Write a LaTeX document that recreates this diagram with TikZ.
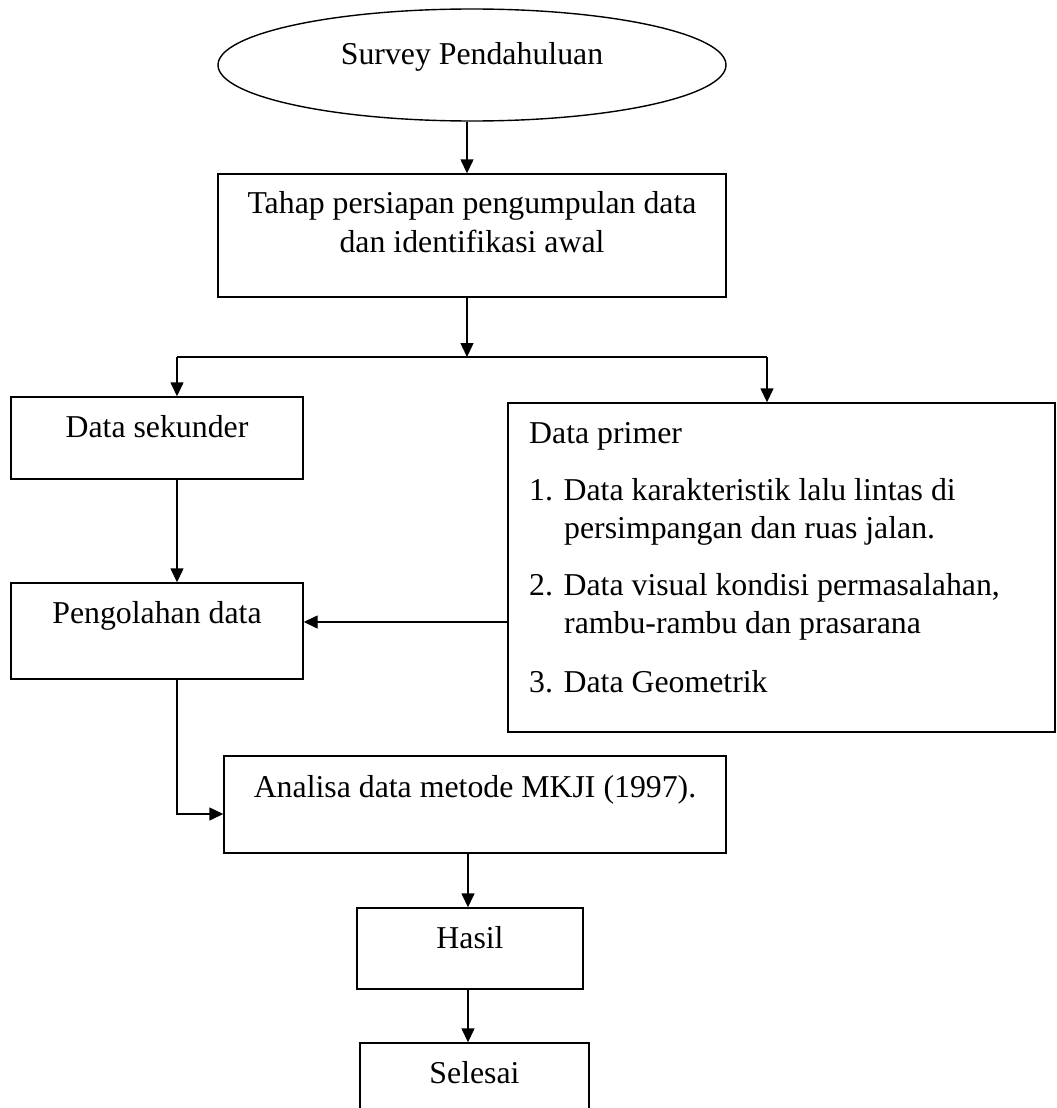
\documentclass[tikz,border=0pt]{standalone}
\usepackage{fontspec}
\setmainfont{Liberation Serif}
\usetikzlibrary{arrows.meta,shapes.geometric}
\begin{document}
\begin{tikzpicture}[x=1pt,y=-1pt,
  box/.style={draw,line width=1.4pt,inner sep=0pt,rectangle},
  lbl/.style={anchor=base,inner sep=0pt,font=\fontsize{31.8}{39.75}\selectfont},
  lblw/.style={anchor=base west,inner sep=0pt,font=\fontsize{31.8}{39.75}\selectfont},
  conn/.style={line width=1.4pt},
  arr/.style={line width=1.4pt,-{Triangle[length=14pt,width=13pt]}}]
\clip (0,0) rectangle (1057,1108);
\useasboundingbox (0,0) rectangle (1057,1108);
% ellipse
\node[draw,ellipse,line width=1.4pt,inner sep=0pt,minimum width=508pt,minimum height=112pt] (ell) at (472,65) {};
\node[lbl] (tell) at (472,64) {Survey Pendahuluan};
% box 1
\node[box,minimum width=508pt,minimum height=123pt] (b1) at (472,235.5) {};
\node[lbl] (tb1a) at (472,213) {Tahap persiapan pengumpulan data};
\node[lbl] (tb1b) at (472,252) {dan identifikasi awal};
% data sekunder
\node[box,minimum width=292pt,minimum height=82pt] (sek) at (157,438) {};
\node[lbl] (tsek) at (157,437) {Data sekunder};
% data primer
\node[box,minimum width=547pt,minimum height=329pt] (pri) at (781.5,567.5) {};
\node[lblw] (tp0) at (529,443) {Data primer};
\node[lblw] (tp1) at (529,500) {1. Data karakteristik lalu lintas di};
\node[lblw] (tp2) at (564,538) {persimpangan dan ruas jalan.};
\node[lblw] (tp3) at (529,595) {2. Data visual kondisi permasalahan,};
\node[lblw] (tp4) at (564,633) {rambu-rambu dan prasarana};
\node[lblw] (tp5) at (529,692) {3. Data Geometrik};
% pengolahan
\node[box,minimum width=292pt,minimum height=96pt] (peng) at (157,631) {};
\node[lbl] (tpeng) at (157,623) {Pengolahan data};
% analisa
\node[box,minimum width=502pt,minimum height=97pt] (ana) at (475,804.5) {};
\node[lbl] (tana) at (475,797) {Analisa data metode MKJI (1997).};
% hasil
\node[box,minimum width=226pt,minimum height=81pt] (has) at (470,948.5) {};
\node[lbl] (thas) at (470,948) {Hasil};
% selesai
\node[box,minimum width=229pt,minimum height=87pt] (sel) at (474.5,1086.5) {};
\node[lbl] (tsel) at (474.5,1083) {Selesai};
% coordinates
\coordinate (jm) at (467,357);
\coordinate (jl) at (177,357);
\coordinate (jr) at (767,357);
\coordinate (ym) at (400,622);
\coordinate (ya) at (200,814);
\coordinate (cx) at (468,0);
% connectors
\draw[arr] (jm |- ell.south) -- (jm |- b1.north);
\draw[arr] (jm |- b1.south) -- (jm);
\draw[conn] (jl) -- (jr);
\draw[arr] (jl) -- (jl |- sek.north);
\draw[arr] (jr) -- (jr |- pri.north);
\draw[arr] (jl |- sek.south) -- (jl |- peng.north);
\draw[arr] (ym -| pri.west) -- (ym -| peng.east);
\draw[arr] (jl |- peng.south) |- (ya -| ana.west);
\draw[arr] (cx |- ana.south) -- (cx |- has.north);
\draw[arr] (cx |- has.south) -- (cx |- sel.north);
\end{tikzpicture}
\end{document}
